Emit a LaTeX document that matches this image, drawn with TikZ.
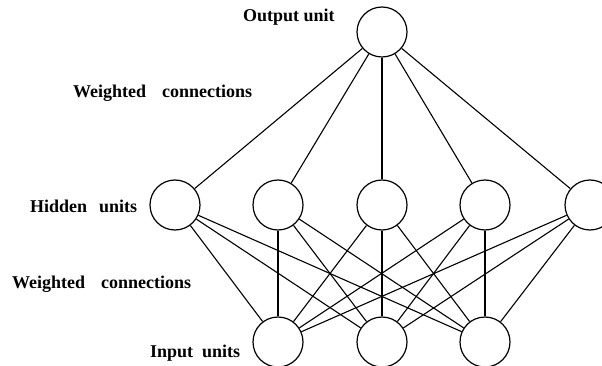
\documentclass[tikz,border=0pt]{standalone}
\usepackage{fontspec}
\setmainfont{Liberation Serif}
\begin{document}
\begin{tikzpicture}[x=1pt,y=-1pt,
  unit/.style={draw,circle,line width=1.2pt,minimum size=50pt,inner sep=0pt},
  conn/.style={line width=1.1pt},
  lbl/.style={anchor=west,inner sep=0pt,font=\fontsize{18}{21}\selectfont\bfseries}]
\useasboundingbox (0,0) rectangle (602,366);
\node[unit] (o) at (382,32) {};
\foreach \i/\x in {1/175,2/278,3/382,4/485,5/590}
  \node[unit] (h\i) at (\x,205) {};
\foreach \i/\x in {1/278,2/382,3/485}
  \node[unit] (in\i) at (\x,342) {};
\foreach \i in {1,...,5} \draw[conn] (o) -- (h\i);
\foreach \i in {1,...,5}
  \foreach \j in {1,2,3}
    \draw[conn] (h\i) -- (in\j);
\node[lbl] (l1) at (243,17) {Output unit};
\node[lbl] (l2) at (73,93) {Weighted\hspace{16pt}connections};
\node[lbl] (l3) at (30,206) {Hidden\hspace{12pt}units};
\node[lbl] (l4) at (12,284) {Weighted\hspace{16pt}connections};
\node[lbl] (l5) at (150,353) {Input\hspace{9pt}units};
\end{tikzpicture}
\end{document}
